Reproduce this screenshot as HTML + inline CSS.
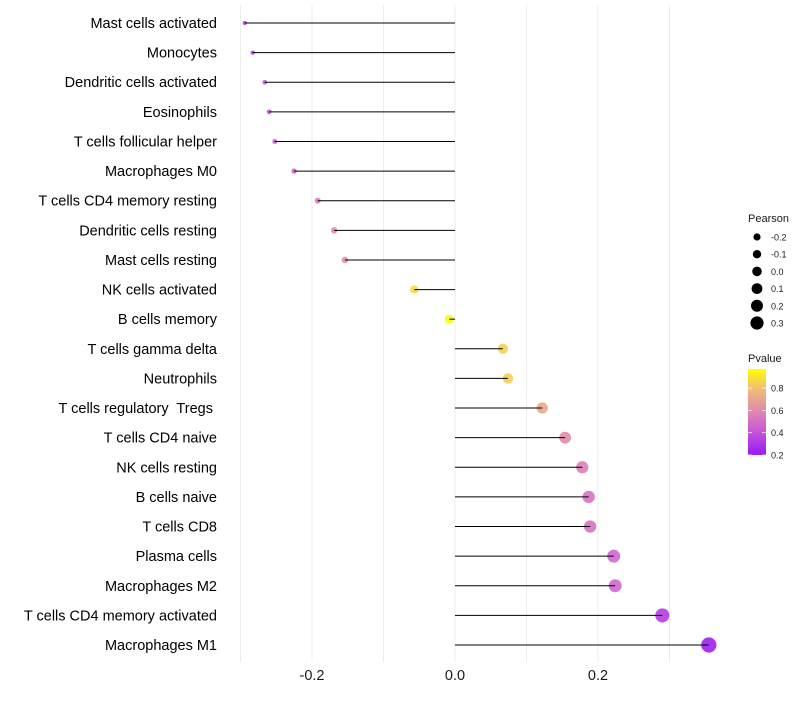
<!DOCTYPE html>
<html><head><meta charset="utf-8"><style>
body{margin:0;background:#fff;font-family:"Liberation Sans",sans-serif}
svg text{font-family:"Liberation Sans",sans-serif;white-space:pre}
</style></head><body>
<svg id="c" width="800" height="700"></svg>
<script>
const categories=["Mast cells activated","Monocytes","Dendritic cells activated","Eosinophils","T cells follicular helper","Macrophages M0","T cells CD4 memory resting","Dendritic cells resting","Mast cells resting","NK cells activated","B cells memory","T cells gamma delta","Neutrophils","T cells regulatory  Tregs ","T cells CD4 naive","NK cells resting","B cells naive","T cells CD8","Plasma cells","Macrophages M2","T cells CD4 memory activated","Macrophages M1"];
const pearson=[-0.294,-0.283,-0.266,-0.260,-0.252,-0.225,-0.192,-0.169,-0.154,-0.057,-0.008,0.067,0.074,0.122,0.154,0.178,0.187,0.189,0.222,0.224,0.290,0.355];
const pvalue=[0.30,0.35,0.38,0.39,0.40,0.45,0.55,0.60,0.63,0.88,0.98,0.85,0.85,0.70,0.60,0.55,0.50,0.50,0.45,0.45,0.30,0.18];
const xTicks=[-0.2,0.0,0.2];
const xTickLabels=["-0.2","0.0","0.2"];
const gridVals=[-0.3,-0.2,-0.1,0,0.1,0.2,0.3];
const sizeLegend=[-0.2,-0.1,0.0,0.1,0.2,0.3];
const pLegend=[0.8,0.6,0.4,0.2];

const NS="http://www.w3.org/2000/svg",svg=document.getElementById('c');
const X=v=>455+v*715;
const Y=i=>23+i*(622/21);
const R=v=>4.6+8.5*v;
const stops=[[0.2,[160,32,240]],[0.4,[200,90,216]],[0.6,[226,140,170]],[0.8,[240,192,112]],[1.0,[255,255,0]]];
function col(p){p=Math.max(0.2,Math.min(1,p));for(let k=0;k<stops.length-1;k++){const a=stops[k],b=stops[k+1];if(p<=b[0]){const t=(p-a[0])/(b[0]-a[0]);const c=a[1].map((x,j)=>Math.round(x+(b[1][j]-x)*t));return `rgb(${c})`;}}return 'rgb(255,255,0)';}
function el(t,a,p){const e=document.createElementNS(NS,t);for(const k in a)e.setAttribute(k,a[k]);(p||svg).appendChild(e);return e;}

gridVals.forEach(v=>{const g=el('line',{x1:X(v),x2:X(v),y1:5,y2:662,stroke:'#ececec','stroke-width':1});

});

categories.forEach((c,i)=>{
const y=Y(i);
const d=el('circle',{cx:X(pearson[i]),cy:y,r:R(pearson[i]),fill:col(pvalue[i]),'fill-opacity':0.9});


const l=el('line',{x1:X(0),x2:X(pearson[i]),y1:y,y2:y,stroke:'#000','stroke-width':1});


const t=el('text',{x:217,y:y+5,'text-anchor':'end','font-size':14.5,fill:'#000'});t.textContent=c;


});
xTicks.forEach((v,i)=>{const t=el('text',{x:X(v),y:680,'text-anchor':'middle','font-size':14.5,fill:'#1a1a1a'});t.textContent=xTickLabels[i];

});

const lt=el('text',{x:748,y:222,'font-size':11,fill:'#1a1a1a'});lt.textContent='Pearson';


sizeLegend.forEach((v,i)=>{const y=237+i*17.2;
const c=el('circle',{cx:757,cy:y,r:4.8+6*v,fill:'#000'});


const t=el('text',{x:771,y:y+3.5,'font-size':9,fill:'#1a1a1a'});t.textContent=v.toFixed(1);

});

const pt=el('text',{x:748,y:362,'font-size':11,fill:'#1a1a1a'});pt.textContent='Pvalue';


const defs=el('defs',{});const lg=el('linearGradient',{id:'g',x1:0,y1:1,x2:0,y2:0},defs);
stops.forEach(s=>el('stop',{offset:((s[0]-0.17)/(0.98-0.17)*100)+'%','stop-color':col(s[0])},lg));
const bar=el('rect',{x:748,y:369,width:18,height:86,fill:'url(#g)'});


pLegend.forEach(v=>{const y=455-(v-0.2)/0.2*22.3;
const t=el('text',{x:771,y:y+3.5,'font-size':9,fill:'#1a1a1a'});t.textContent=v.toFixed(1);


el('line',{x1:748,x2:752,y1:y,y2:y,stroke:'#fff','stroke-width':0.7});el('line',{x1:762,x2:766,y1:y,y2:y,stroke:'#fff','stroke-width':0.7});});
</script>
</body></html>
